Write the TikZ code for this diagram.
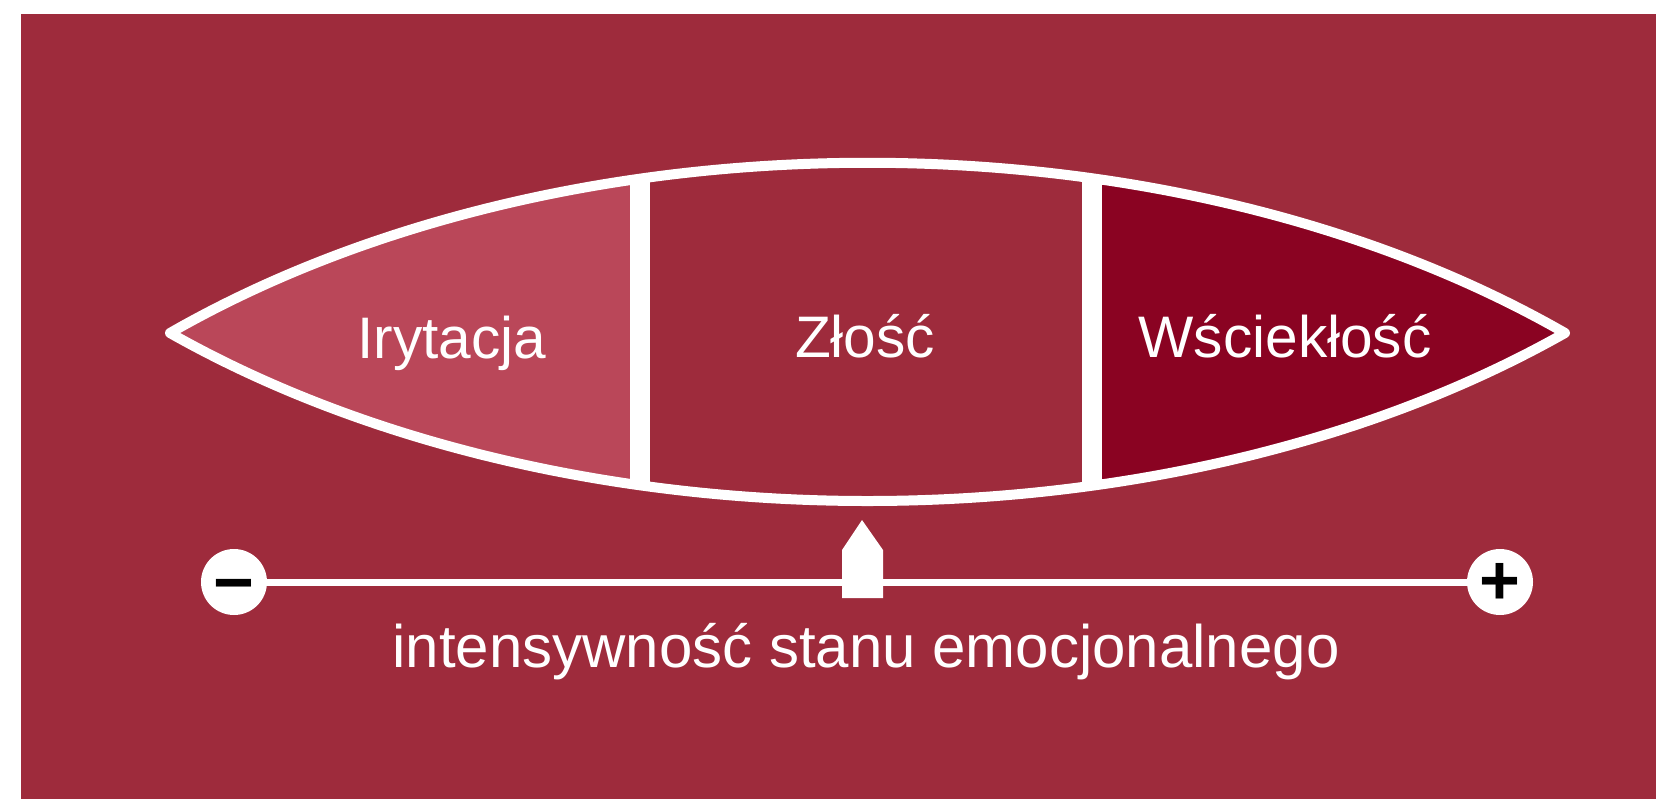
\documentclass[tikz,border=0pt]{standalone}
\usepackage{fontspec}
\setmainfont{Liberation Sans}
\definecolor{bgred}{HTML}{9E2B3C}
\definecolor{lightred}{HTML}{BA4759}
\definecolor{darkred}{HTML}{8A0322}
\begin{document}
\begin{tikzpicture}[x=0.5pt, y=-0.5pt,
	zonetext/.style={text=white, font=\fontsize{29.3}{32}\selectfont, anchor=base},
	signdisc/.style={circle, fill=white, minimum size=33pt, inner sep=0pt},
	signtext/.style={text=black, inner sep=0pt, font=\fontsize{35}{38}\selectfont\bfseries}]
	\useasboundingbox (0,0) rectangle (1656,799);
	\fill[bgred] (21,14) rectangle (1656,799);
	% the three zones, clipped to the lens
	\begin{scope}
		\clip (170,333) .. controls (566,106) and (1169,106) .. (1565,333) .. controls (1169,557) and (566,557) .. (170,333) -- cycle;
		\fill[lightred] (0,0) rectangle (640,799);
		\fill[darkred] (1092,0) rectangle (1656,799);
		\draw[white, line width=10pt] (640,0) -- (640,799);
		\draw[white, line width=10pt] (1092,0) -- (1092,799);
	\end{scope}
	\draw[white, line width=5pt, line join=round] (170,333) .. controls (566,106) and (1169,106) .. (1565,333) .. controls (1169,557) and (566,557) .. (170,333) -- cycle;
	\node (irytacja) at (452,358) [zonetext] {Irytacja};
	\node (zlosc) at (865,357) [zonetext] {Zło\'s\'c};
	\node (wscieklosc) at (1285,357) [zonetext] {W\'sciekło\'s\'c};
	% scale
	\node (minus) at (234,582) [signdisc] {};
	\node (plus) at (1500,582) [signdisc] {};
	\node (minussign) at (minus) [signtext, yshift=-5.3pt] {−};
	\node (plussign) at (plus) [signtext, yshift=-1.2pt] {+};
	\draw[white, line width=3.5pt] (minus) -- (plus);
	\fill[white] (842,598) -- (842,550) -- (862,520) -- (883,550) -- (883,598) -- cycle;
	\node (caption) at (866,667) [zonetext, font=\fontsize{30}{32}\selectfont] {intensywno\'s\'c stanu emocjonalnego};
\end{tikzpicture}
\end{document}
